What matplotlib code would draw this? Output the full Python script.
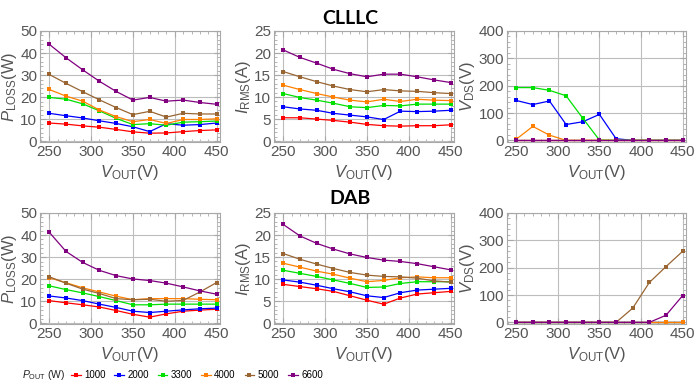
import matplotlib
matplotlib.use("Agg")
import matplotlib.pyplot as plt
from matplotlib.ticker import MultipleLocator

plt.rcParams['font.family'] = ['Liberation Sans', 'DejaVu Sans']
plt.rcParams['mathtext.fontset'] = 'custom'
plt.rcParams['mathtext.rm'] = 'Liberation Sans'
plt.rcParams['mathtext.it'] = 'Liberation Sans:italic'

vout = [250, 270, 290, 310, 330, 350, 370, 390, 410, 430, 450]
power_labels = ['1000', '2000', '3300', '4000', '5000', '6600']
colors = ['#ff0000', '#0000ff', '#00e000', '#ff8000', '#996633', '#800080']

# CLLLC
clllc_ploss = [
    [8.3, 7.8, 7.0, 6.4, 5.4, 4.3, 3.7, 3.8, 4.4, 4.9, 5.2],
    [12.7, 11.6, 10.6, 9.3, 8.1, 6.6, 4.4, 8.0, 7.3, 7.6, 8.3],
    [19.9, 19.1, 17.0, 13.8, 10.4, 7.6, 8.0, 7.3, 8.7, 8.9, 9.2],
    [23.5, 20.5, 18.2, 14.2, 11.2, 8.9, 9.9, 8.1, 9.9, 9.9, 10.2],
    [30.3, 26.3, 22.5, 18.8, 15.3, 12.1, 13.6, 11.0, 12.7, 12.4, 12.4],
    [44.0, 37.9, 32.4, 27.2, 22.6, 18.7, 19.9, 18.2, 18.7, 17.6, 16.8],
]
clllc_irms = [
    [5.3, 5.3, 5.0, 4.7, 4.3, 3.8, 3.5, 3.4, 3.5, 3.5, 3.7],
    [7.8, 7.3, 7.0, 6.3, 5.9, 5.5, 4.9, 6.8, 6.7, 6.8, 7.0],
    [10.8, 9.9, 9.3, 8.6, 7.8, 7.6, 8.1, 8.0, 8.4, 8.4, 8.4],
    [12.7, 11.7, 10.8, 10.0, 9.3, 8.9, 9.5, 9.0, 9.5, 9.3, 9.2],
    [15.8, 14.6, 13.5, 12.5, 11.7, 11.2, 11.7, 11.4, 11.3, 11.0, 10.8],
    [20.7, 19.0, 17.7, 16.3, 15.3, 14.6, 15.2, 15.2, 14.6, 13.9, 13.3],
]
clllc_vds = [
    [0, 0, 0, 0, 0, 0, 0, 0, 0, 0, 0],
    [146, 131, 144, 58, 68, 95, 6, 0, 0, 0, 0],
    [193, 193, 183, 163, 81, 1, 0, 0, 0, 0, 0],
    [4, 51, 19, 0, 0, 0, 0, 0, 0, 0, 0],
    [0, 0, 0, 0, 0, 0, 0, 0, 0, 0, 0],
    [0, 0, 0, 0, 0, 0, 0, 0, 0, 0, 0],
]

# DAB
dab_ploss = [
    [10.3, 9.3, 8.4, 7.4, 5.8, 4.1, 2.8, 4.3, 5.5, 6.0, 6.4],
    [12.4, 11.5, 10.3, 8.7, 7.2, 5.5, 4.9, 5.5, 6.1, 6.6, 6.9],
    [17.0, 15.3, 13.8, 12.1, 10.3, 8.4, 8.4, 8.7, 8.7, 8.7, 8.7],
    [20.7, 18.4, 16.1, 14.2, 12.3, 10.7, 11.2, 11.2, 11.2, 10.9, 10.7],
    [21.1, 18.2, 15.5, 13.5, 11.2, 10.7, 10.9, 10.0, 10.4, 14.2, 18.5],
    [41.3, 32.6, 27.6, 24.0, 21.6, 20.1, 19.4, 18.2, 16.5, 14.7, 13.2],
]
dab_irms = [
    [8.8, 8.3, 7.8, 7.2, 6.2, 5.2, 4.3, 5.7, 6.6, 6.9, 7.2],
    [9.8, 9.3, 8.6, 7.8, 7.1, 6.2, 5.8, 6.9, 7.5, 7.7, 7.9],
    [12.0, 11.3, 10.6, 9.8, 9.0, 8.1, 8.2, 9.0, 9.4, 9.4, 9.4],
    [13.6, 12.7, 11.8, 11.1, 10.2, 9.4, 9.7, 10.3, 10.5, 10.3, 10.3],
    [15.8, 14.5, 13.4, 12.4, 11.5, 10.9, 10.6, 10.5, 10.2, 9.6, 9.3],
    [22.4, 19.8, 18.1, 16.8, 15.7, 14.9, 14.3, 14.0, 13.5, 12.8, 12.1],
]
dab_vds = [
    [0, 0, 0, 0, 0, 0, 0, 0, 0, 0, 0],
    [0, 0, 0, 0, 0, 0, 0, 0, 0, 0, 0],
    [0, 0, 0, 0, 0, 0, 0, 0, 0, 0, 0],
    [0, 0, 0, 0, 0, 0, 0, 0, 0, 0, 0],
    [0, 0, 0, 0, 0, 0, 0, 52, 146, 204, 260],
    [0, 0, 0, 0, 0, 0, 0, 0, 0, 26, 98],
]

W, H = 700, 387
fig = plt.figure(figsize=(7, 3.87), dpi=100)

def ax_at(l, t, r, b):
    return fig.add_axes([l / W, 1 - b / H, (r - l) / W, (b - t) / H])

cols = [(40, 220), (274, 454), (507, 686)]
rows = [(31, 142), (213, 324)]

ylabels = [r'$P_{\mathrm{LOSS}}$(W)', r'$I_{\mathrm{RMS}}$(A)', r'$V_{\mathrm{DS}}$(V)']
ylims = [(-0.3, 50), (-0.2, 25), (-6, 400)]
ymaj = [10, 5, 100]
ymin_ = [2, 1, 20]
datasets = [[clllc_ploss, clllc_irms, clllc_vds], [dab_ploss, dab_irms, dab_vds]]

frame_c = '#a8a8a8'
grid_c = '#bdbdbd'
tick_c = '#555555'

axes_handles = None
for ri, (t, b) in enumerate(rows):
    for ci, (l, r) in enumerate(cols):
        ax = ax_at(l, t, r, b)
        data = datasets[ri][ci]
        hs = []
        for k in range(6):
            h, = ax.plot(vout, data[k], color=colors[k], lw=0.9, marker='s',
                         ms=2.6, mew=0, label=power_labels[k])
            hs.append(h)
        if axes_handles is None:
            axes_handles = hs
        ax.set_xlim(239, 454)
        ax.set_ylim(*ylims[ci])
        ax.xaxis.set_major_locator(MultipleLocator(50))
        ax.xaxis.set_minor_locator(MultipleLocator(10))
        ax.yaxis.set_major_locator(MultipleLocator(ymaj[ci]))
        ax.yaxis.set_minor_locator(MultipleLocator(ymin_[ci]))
        ax.grid(True, which='major', color=grid_c, lw=0.8)
        for s in ax.spines.values():
            s.set_color(frame_c)
            s.set_linewidth(0.8)
        ax.tick_params(which='both', direction='in', top=True, right=True,
                       color=frame_c, labelcolor=tick_c, labelsize=11, pad=2)
        ax.tick_params(which='major', length=4)
        ax.tick_params(which='minor', length=2)
        ax.set_ylabel(ylabels[ci], fontsize=12, color=tick_c, labelpad=1)
        ax.set_xlabel(r'$V_{\mathrm{OUT}}$(V)', fontsize=12, color=tick_c, labelpad=3)

fig.text(350 / W, 1 - 18 / H, 'CLLLC', ha='center', va='center',
         fontsize=14, fontweight='bold', family=['Lato', 'DejaVu Sans'])
fig.text(350 / W, 1 - 199 / H, 'DAB', ha='center', va='center',
         fontsize=14, fontweight='bold', family=['Lato', 'DejaVu Sans'])

fig.text(22 / W, 1 - 375 / H, r'$P_{\mathrm{OUT}}$ (W)', ha='left', va='center',
         fontsize=7.5, color='#222222')
fig.legend(handles=axes_handles, labels=power_labels, loc='center left',
           bbox_to_anchor=(71 / W, 1 - 375 / H), ncol=6, frameon=False,
           fontsize=7, handlelength=1.0, handletextpad=0.35,
           columnspacing=0.9, borderaxespad=0, borderpad=0)

fig.savefig('out.png', dpi=100)
